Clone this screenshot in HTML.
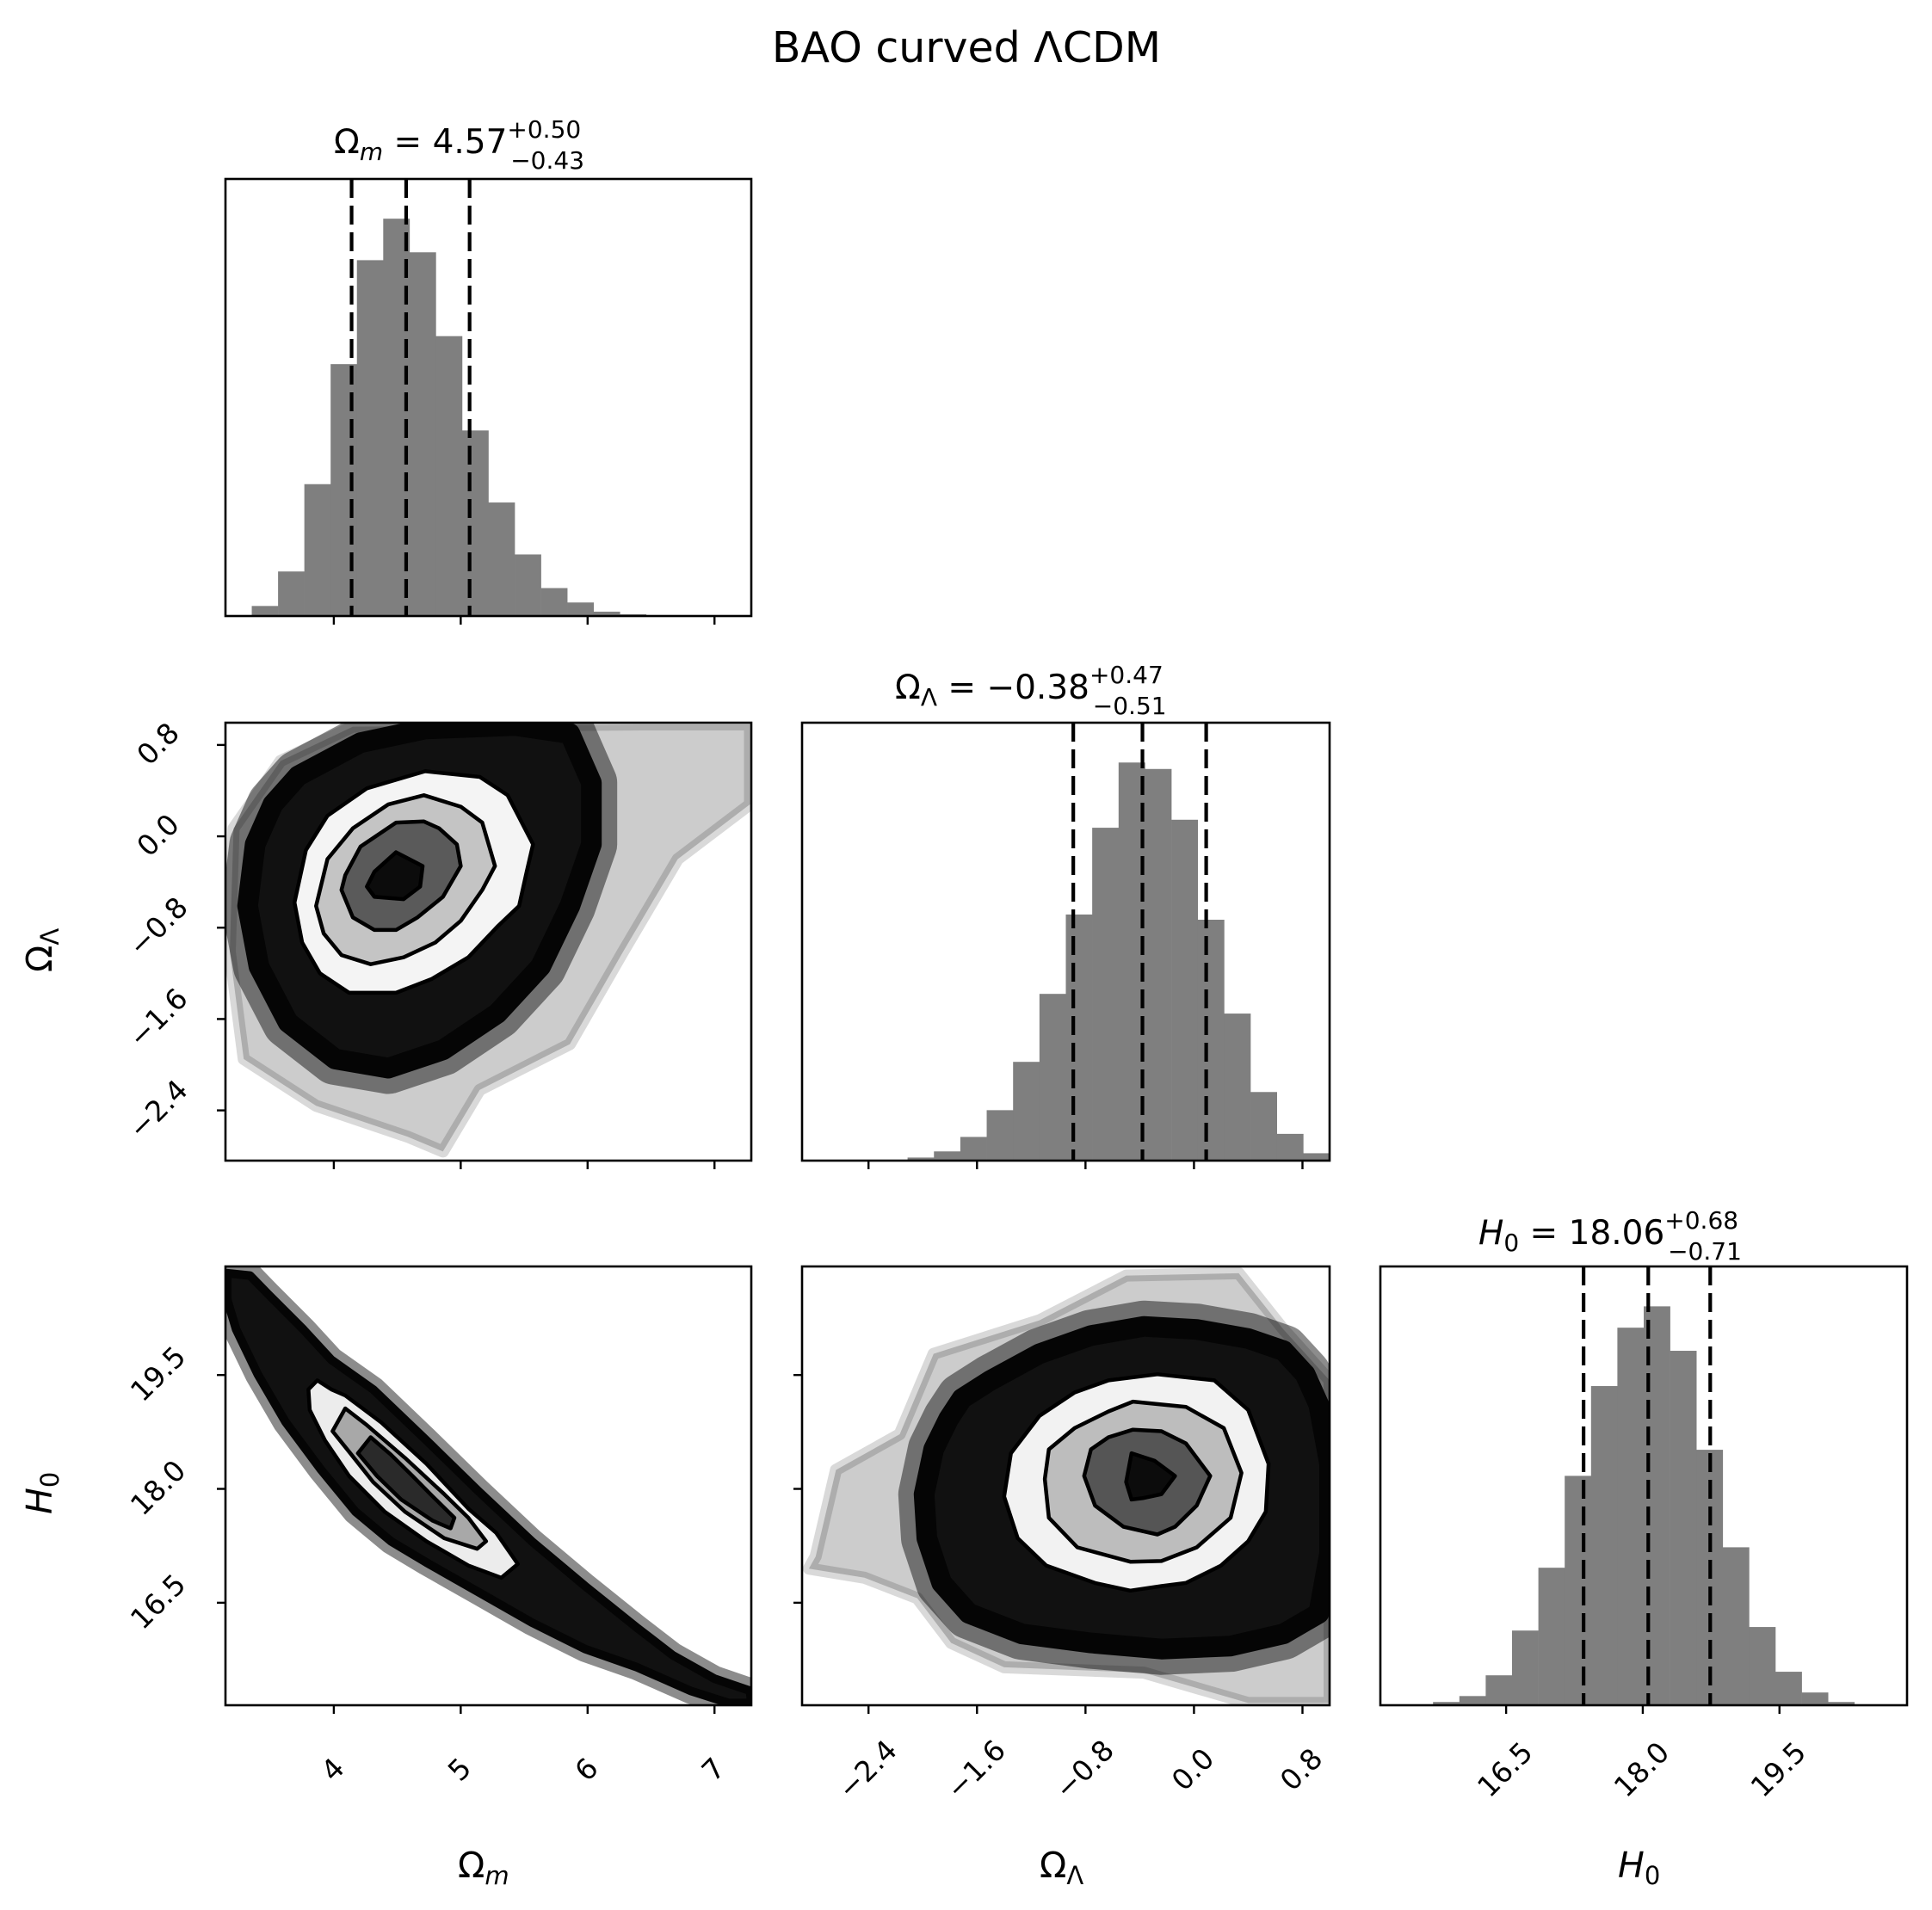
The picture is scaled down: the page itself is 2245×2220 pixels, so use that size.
<!DOCTYPE html>
<html><head><meta charset="utf-8"><style>
html,body{margin:0;padding:0;background:#fff;}
svg text{font-family:"DejaVu Sans","Liberation Sans",sans-serif;fill:#000;}
</style></head><body>
<svg id="fig" width="2245" height="2215" viewBox="0 0 2245 2215" xmlns="http://www.w3.org/2000/svg">
<text x="1123" y="72" font-size="49" text-anchor="middle">BAO curved ΛCDM</text>
</svg>
<script>
// ---- data ----
const omRange=[3.146,7.29], olRange=[-2.89,1.0], olRangeV=[-2.84,0.995], h0Range=[15.12,20.9], h0RangeV=[15.15,20.93];
const omHist=[0,23,102,302,577,815,910,833,641,425,260,141,64,31,10,4,1,1,0.5,0.5];
const olHist=[0,0,0,0,10,30,77,164,321,542,800,1082,1294,1273,1108,783,478,223,87,24];
const h0Hist=[0,0,11,31,101,252,464,774,1077,1274,1346,1196,862,533,264,113,43,11,0,0];
const omQuant=[4.14,4.57,5.07], olQuant=[-0.89,-0.38,0.09], h0Quant=[17.35,18.06,18.74];
const omTicks=[4,5,6,7], omTickLabels=["4","5","6","7"];
const olTicks=[-2.4,-1.6,-0.8,0.0,0.8], olTickLabels=["−2.4","−1.6","−0.8","0.0","0.8"];
const h0Ticks=[16.5,18.0,19.5], h0TickLabels=["16.5","18.0","19.5"];
// 2D panel A: (Omega_m, Omega_Lambda)
const aHalo=[[3.21,0.07],[3.58,0.66],[4.15,0.96],[6.43,0.98],[7.28,0.98],[7.28,0.28],[6.71,-0.20],[6.28,-1.01],[5.86,-1.82],[5.15,-2.22],[4.86,-2.76],[4.58,-2.63],[3.86,-2.36],[3.29,-1.95],[3.18,-1.01]];
const aDark=[[3.72,0.53],[4.21,0.82],[4.72,0.94],[5.43,0.97],[5.86,0.90],[6.03,0.47],[6.03,-0.07],[5.86,-0.61],[5.63,-1.14],[5.29,-1.55],[4.86,-1.87],[4.43,-2.03],[4.01,-1.95],[3.64,-1.63],[3.41,-1.14],[3.32,-0.61],[3.38,-0.07],[3.52,0.28]];
const aC1=[[4.72,0.57],[5.15,0.52],[5.37,0.36],[5.57,-0.07],[5.52,-0.31],[5.46,-0.61],[5.29,-0.79],[5.06,-1.06],[4.77,-1.25],[4.49,-1.37],[4.12,-1.37],[3.89,-1.20],[3.75,-0.93],[3.69,-0.58],[3.78,-0.12],[3.95,0.18],[4.26,0.42]];
const aC2=[[4.71,0.36],[5.00,0.26],[5.17,0.12],[5.27,-0.26],[5.17,-0.47],[5.00,-0.74],[4.80,-0.93],[4.55,-1.06],[4.29,-1.12],[4.06,-1.04],[3.92,-0.85],[3.86,-0.61],[3.95,-0.20],[4.15,0.07],[4.43,0.28]];
const aC3=[[4.71,0.13],[4.83,0.07],[4.97,-0.07],[5.00,-0.26],[4.86,-0.53],[4.66,-0.71],[4.49,-0.82],[4.32,-0.82],[4.15,-0.71],[4.06,-0.47],[4.09,-0.34],[4.21,-0.09],[4.49,0.12]];
const aC4=[[4.49,-0.14],[4.70,-0.26],[4.68,-0.44],[4.55,-0.55],[4.32,-0.53],[4.26,-0.44],[4.32,-0.31],[4.43,-0.20]];
// 2D panel B: (Omega_m, H0)
const bDark=[[3.16,20.84],[3.34,20.81],[3.48,20.57],[3.76,20.10],[3.98,19.70],[4.31,19.31],[4.73,18.64],[5.14,17.97],[5.56,17.31],[5.98,16.72],[6.39,16.17],[6.67,15.81],[7.00,15.50],[7.28,15.34],[7.29,15.18],[7.11,15.18],[6.81,15.34],[6.39,15.65],[5.98,15.89],[5.56,16.24],[5.14,16.64],[4.73,17.03],[4.45,17.31],[4.17,17.70],[3.90,18.25],[3.62,18.88],[3.40,19.51],[3.23,20.10],[3.16,20.49]];
const bC1=[[3.87,19.43],[3.98,19.31],[4.09,19.23],[4.37,18.88],[4.73,18.33],[5.06,17.74],[5.28,17.42],[5.45,17.01],[5.32,16.83],[5.06,16.99],[4.73,17.31],[4.40,17.70],[4.12,18.17],[3.93,18.64],[3.81,19.04],[3.80,19.31]];
const bC2=[[4.09,19.06],[4.26,18.84],[4.56,18.41],[4.87,17.93],[5.06,17.62],[5.20,17.31],[5.13,17.21],[4.87,17.35],[4.56,17.70],[4.31,18.09],[4.12,18.49],[3.99,18.76]];
const bC3=[[4.29,18.68],[4.45,18.45],[4.62,18.17],[4.78,17.90],[4.95,17.62],[4.92,17.48],[4.78,17.58],[4.53,17.86],[4.34,18.17],[4.19,18.47]];
// 2D panel C: (Omega_Lambda, H0)
const cHalo=[[-2.64,18.25],[-2.17,18.72],[-1.92,19.78],[-1.14,20.22],[-0.50,20.81],[0.33,20.84],[0.66,20.10],[1.0,19.43],[1.0,15.18],[0.40,15.18],[-0.37,15.58],[-1.40,15.65],[-1.79,15.97],[-2.04,16.56],[-2.43,16.83],[-2.84,16.95],[-2.79,17.11]];
const cDark=[[-1.71,19.19],[-1.50,19.43],[-1.14,19.78],[-0.76,20.02],[-0.37,20.14],[0.02,20.10],[0.40,19.98],[0.66,19.82],[0.82,19.51],[0.92,19.11],[1.0,18.33],[1.0,17.15],[0.92,16.36],[0.66,16.09],[0.27,15.93],[-0.24,15.89],[-0.76,15.97],[-1.27,16.09],[-1.66,16.36],[-1.86,16.76],[-1.97,17.35],[-1.99,17.93],[-1.92,18.52],[-1.81,18.92]];
const cC1=[[-1.35,18.47],[-1.14,18.96],[-0.88,19.27],[-0.63,19.43],[-0.27,19.51],[0.15,19.43],[0.40,19.04],[0.55,18.33],[0.53,17.70],[0.40,17.31],[0.20,16.99],[-0.06,16.76],[-0.24,16.72],[-0.47,16.66],[-0.73,16.76],[-1.09,16.99],[-1.30,17.35],[-1.40,17.90]];
const cC2=[[-1.07,18.52],[-0.88,18.80],[-0.63,19.02],[-0.45,19.15],[-0.06,19.08],[0.22,18.80],[0.35,18.21],[0.27,17.62],[0.02,17.23],[-0.24,17.05],[-0.47,17.04],[-0.86,17.23],[-1.07,17.62],[-1.10,18.13]];
const cC3=[[-0.76,18.52],[-0.63,18.68],[-0.45,18.78],[-0.24,18.76],[-0.06,18.60],[0.12,18.17],[0.02,17.78],[-0.14,17.50],[-0.27,17.40],[-0.52,17.50],[-0.73,17.78],[-0.81,18.17]];
const cC4=[[-0.46,18.47],[-0.29,18.37],[-0.14,18.17],[-0.24,17.93],[-0.37,17.88],[-0.46,17.86],[-0.50,18.09]];

const NS="http://www.w3.org/2000/svg";
const svg=document.getElementById('fig');
function mk(tag,attrs,parent){const e=document.createElementNS(NS,tag);for(const k in attrs)e.setAttribute(k,attrs[k]);(parent||svg).appendChild(e);return e;}
function lin(d,r){return v=>r[0]+(v-d[0])/(d[1]-d[0])*(r[1]-r[0]);}

function panel(name,x0,y0,x1,y1){
  const g=mk('g',{});  
  const cp=mk('clipPath',{id:'cp-'+name},g); mk('rect',{x:x0,y:y0,width:x1-x0,height:y1-y0},cp);
  const inner=mk('g',{'clip-path':'url(#cp-'+name+')'},g);
  return {g,inner,x0,y0,x1,y1};
}
function frame(p){const r=mk('rect',{x:p.x0,y:p.y0,width:p.x1-p.x0,height:p.y1-p.y0,fill:'none',stroke:'#000','stroke-width':2.6},p.g);}
function xticks(p,sx,ticks,labels){
  ticks.forEach((t,i)=>{const x=sx(t);
    const l=mk('line',{x1:x,x2:x,y1:p.y1,y2:p.y1+10,stroke:'#000','stroke-width':2.4},p.g);
    
    if(labels){const tx=mk('text',{x:x,y:p.y1+76,'font-size':33,'text-anchor':'middle','dominant-baseline':'middle',transform:`rotate(-45 ${x} ${p.y1+76})`},p.g);tx.textContent=labels[i];
      }
  });
}
function yticks(p,sy,ticks,labels){
  ticks.forEach((t,i)=>{const y=sy(t);
    const l=mk('line',{x1:p.x0-10,x2:p.x0,y1:y,y2:y,stroke:'#000','stroke-width':2.4},p.g);
    
    if(labels){const tx=mk('text',{x:p.x0-77,y:y,'font-size':33,'text-anchor':'middle','dominant-baseline':'middle',transform:`rotate(-45 ${p.x0-77} ${y})`},p.g);tx.textContent=labels[i];
      }
  });
}
function hist(p,range,counts,quants,nm){
  const sx=lin(range,[p.x0,p.x1]); const mx=Math.max(...counts)*1.1; const sy=v=>p.y1-v/mx*(p.y1-p.y0);
  const w=(range[1]-range[0])/counts.length;
  counts.forEach((c,i)=>{if(c<=0)return;const a=sx(range[0]+i*w),b=sx(range[0]+(i+1)*w);
    const r=mk('rect',{x:a,y:sy(c),width:b-a+0.3,height:p.y1-sy(c),fill:'#7f7f7f'},p.inner);
    });
  quants.forEach(q=>{const x=sx(q);const l=mk('line',{x1:x,x2:x,y1:p.y0,y2:p.y1,stroke:'#000','stroke-width':4.2,'stroke-dasharray':'22 9'},p.inner);
    });
  frame(p); return sx;
}
function poly(p,sx,sy,pts,attrs,nm){const d=pts.map((q,i)=>(i?'L':'M')+sx(q[0]).toFixed(1)+' '+sy(q[1]).toFixed(1)).join(' ')+' Z';
  const e=mk('path',Object.assign({d:d},attrs),p.inner);return e;}
function density(p,sx,sy,halo,dark,cs,fills){
  if(halo) poly(p,sx,sy,halo,{fill:'#000','fill-opacity':0.2,stroke:'#000','stroke-opacity':0.15,'stroke-width':14,'stroke-linejoin':'round'},'sparse-samples');
  poly(p,sx,sy,dark,{fill:'none',stroke:'#000','stroke-opacity':0.45,'stroke-width':halo?60:30,'stroke-linejoin':'round'},'fringe-samples');
  poly(p,sx,sy,dark,{fill:'#111',stroke:'#050505','stroke-width':halo?24:10,'stroke-linejoin':'round'},'dense-samples');
  cs.forEach((c,i)=>poly(p,sx,sy,c,{fill:fills[i],stroke:'#000','stroke-width':4.5,'stroke-linejoin':'round'},'contour-level-'+(i+1)));
}

// Row 1: Omega_m histogram
const H1=panel('hist-omega-m',262,208,873,716);
hist(H1,omRange,omHist,omQuant,'omega-m-hist'); xticks(H1,lin(omRange,[262,873]),omTicks,null);
// Row 2
const A=panel('scatter-omega-m-omega-lambda',262,840,873,1349);
const Asx=lin(omRange,[262,873]), Asy=lin(olRangeV,[1349,840]);
density(A,Asx,Asy,aHalo,aDark,[aC1,aC2,aC3,aC4],['#f4f4f4','#c4c4c4','#5a5a5a','#0c0c0c']);
frame(A); xticks(A,Asx,omTicks,null); yticks(A,Asy,olTicks,olTickLabels);
const H2=panel('hist-omega-lambda',932,840,1545,1349);
const H2sx=hist(H2,olRange,olHist,olQuant,'omega-lambda-hist'); xticks(H2,H2sx,olTicks,null);
// Row 3
const B=panel('scatter-omega-m-h0',262,1472,873,1982);
const Bsx=lin(omRange,[262,873]), Bsy=lin(h0RangeV,[1982,1472]);
density(B,Bsx,Bsy,null,bDark,[bC1,bC2,bC3],['#ececec','#a8a8a8','#2a2a2a']);
frame(B); xticks(B,Bsx,omTicks,omTickLabels); yticks(B,Bsy,h0Ticks,h0TickLabels);
const C=panel('scatter-omega-lambda-h0',932,1472,1545,1982);
const Csx=lin(olRange,[932,1545]), Csy=lin(h0RangeV,[1982,1472]);
density(C,Csx,Csy,cHalo,cDark,[cC1,cC2,cC3,cC4],['#f2f2f2','#bdbdbd','#555','#0c0c0c']);
frame(C); xticks(C,Csx,olTicks,olTickLabels); yticks(C,Csy,h0Ticks,null);
const H3=panel('hist-h0',1604,1472,2216,1982);
const H3sx=hist(H3,h0Range,h0Hist,h0Quant,'h0-hist'); xticks(H3,H3sx,h0Ticks,h0TickLabels);
</script>
<svg style="position:absolute;left:0;top:0" width="2245" height="2215" viewBox="0 0 2245 2215" xmlns="http://www.w3.org/2000/svg">
<g font-family="DejaVu Sans, Liberation Sans, sans-serif">
<text x="388" y="178" font-size="39">Ω<tspan font-style="italic" font-size="28" dy="8">m</tspan><tspan dy="-8"> = 4.57</tspan><tspan font-size="28" dy="-18">+0.50</tspan><tspan font-size="28" dx="-82" dy="36">−0.43</tspan></text>
<text x="1040" y="812" font-size="39">Ω<tspan font-size="28" dy="8">Λ</tspan><tspan dy="-8"> = −0.38</tspan><tspan font-size="28" dy="-18">+0.47</tspan><tspan font-size="28" dx="-82" dy="36">−0.51</tspan></text>
<text x="1718" y="1446" font-size="39"><tspan font-style="italic">H</tspan><tspan font-size="28" dy="8">0</tspan><tspan dy="-8"> = 18.06</tspan><tspan font-size="28" dy="-18">+0.68</tspan><tspan font-size="28" dx="-82" dy="36">−0.71</tspan></text>
<text x="532" y="2182" font-size="41">Ω<tspan font-style="italic" font-size="29" dy="8">m</tspan></text>
<text x="1208" y="2182" font-size="41">Ω<tspan font-size="29" dy="8">Λ</tspan></text>
<text x="1880" y="2182" font-size="41"><tspan font-style="italic">H</tspan><tspan font-size="29" dy="8">0</tspan></text>
<text x="0" y="0" font-size="41" transform="translate(60 1130) rotate(-90)">Ω<tspan font-size="29" dy="8">Λ</tspan></text>
<text x="0" y="0" font-size="41" transform="translate(60 1760) rotate(-90)"><tspan font-style="italic">H</tspan><tspan font-size="29" dy="8">0</tspan></text>
</g>
</svg>
</body></html>
